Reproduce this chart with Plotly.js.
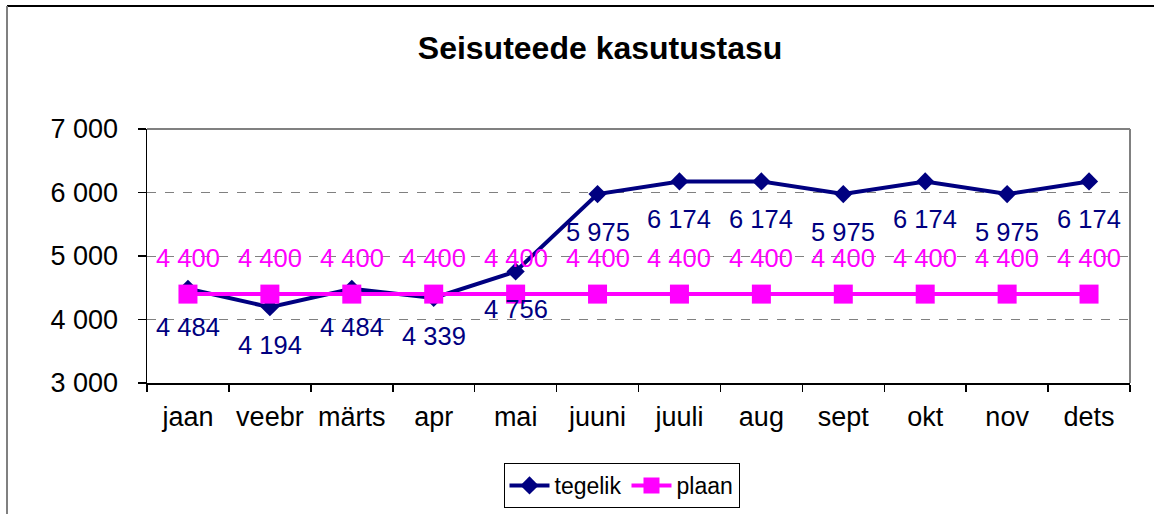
<!DOCTYPE html>
<html>
<head>
<meta charset="utf-8">
<script src="https://cdn.plot.ly/plotly-3.0.1.min.js"></script>
<style>
html,body{margin:0;padding:0;background:#fff;}
#chart{width:1154px;height:514px;}
</style>
</head>
<body>
<div id="chart"></div>
<script>
const months = ["jaan","veebr","märts","apr","mai","juuni","juuli","aug","sept","okt","nov","dets"];
const tegelik = [4484,4194,4484,4339,4756,5975,6174,6174,5975,6174,5975,6174];
const plaan = [4400,4400,4400,4400,4400,4400,4400,4400,4400,4400,4400,4400];
const yTicks = [3000,4000,5000,6000,7000];

const FONT = "Liberation Sans, Arial, sans-serif";
const NAVY = "#000080";
const MAG = "#FF00FF";
function fmt(v){ return String(v).replace(/\B(?=(\d{3})+(?!\d))/g, " "); }

const traces = [
  {x: months, y: tegelik, name: "tegelik", type: "scatter", mode: "lines+markers",
   line: {color: NAVY, width: 4}, marker: {symbol: "diamond", size: 14, color: NAVY}, cliponaxis: false},
  {x: months, y: plaan, name: "plaan", type: "scatter", mode: "lines+markers",
   line: {color: MAG, width: 4}, marker: {symbol: "square", size: 19, color: MAG}, cliponaxis: false}
];

const annotations = [];
months.forEach((m, i) => {
  annotations.push({x: m, y: plaan[i], xref: "x", yref: "y", text: fmt(plaan[i]), showarrow: false,
    yshift: 36, font: {family: FONT, size: 25.5, color: MAG}});
  annotations.push({x: m, y: tegelik[i], xref: "x", yref: "y", text: fmt(tegelik[i]), showarrow: false,
    yshift: -38, font: {family: FONT, size: 25.5, color: NAVY}});
});

const L = 147, R = 1130, T = 129, B = 383, W = 1154, H = 514;
const px = x => (x - L) / (R - L);
const py = y => (B - y) / (B - T);

const layout = {
  width: W, height: H,
  margin: {l: L, r: W - R, t: T, b: H - B, pad: 0, autoexpand: false},
  paper_bgcolor: "#fff", plot_bgcolor: "#fff",
  font: {family: FONT, size: 26, color: "#000"},
  title: {text: "<b>Seisuteede kasutustasu</b>", font: {family: FONT, size: 32, color: "#000"},
          x: 0.52, xref: "container", y: 1 - 48 / H, yref: "container", xanchor: "center", yanchor: "middle"},
  showlegend: true,
  legend: {orientation: "h", x: px(621.5), xanchor: "center", y: py(463), yanchor: "top",
           bordercolor: "#000", borderwidth: 1, bgcolor: "#fff",
           font: {family: FONT, size: 23, color: "#000"}, itemwidth: 40, tracegroupgap: 0},
  xaxis: {type: "category", range: [-0.5, 11.5], showgrid: false, zeroline: false,
          showline: true, linecolor: "#000", linewidth: 1.5,
          ticks: "outside", tickson: "boundaries", ticklen: 7, tickcolor: "#000", tickwidth: 1.5,
          ticklabelstandoff: 9, tickfont: {family: FONT, size: 27, color: "#000"}},
  yaxis: {range: [3000, 7000], tickvals: yTicks, ticktext: yTicks.map(fmt),
          showgrid: true, gridcolor: "#808080", griddash: "dash", gridwidth: 1, zeroline: false,
          showline: true, linecolor: "#000", linewidth: 1.5,
          ticks: "outside", ticklen: 8, tickcolor: "#000", tickwidth: 1.5,
          ticklabelstandoff: 14, tickfont: {family: FONT, size: 27, color: "#000"}},
  annotations: annotations,
  shapes: [
    {type: "line", xref: "paper", yref: "paper", x0: 0, x1: 1, y0: 1, y1: 1, line: {color: "#808080", width: 2}, layer: "below"},
    {type: "line", xref: "paper", yref: "paper", x0: 1, x1: 1, y0: 0, y1: 1, line: {color: "#808080", width: 2}, layer: "below"},
    {type: "line", xref: "paper", yref: "paper", x0: px(7), x1: px(1160), y0: py(6), y1: py(6), line: {color: "#000", width: 2}},
    {type: "line", xref: "paper", yref: "paper", x0: px(7), x1: px(7), y0: py(6), y1: py(520), line: {color: "#808080", width: 2}}
  ]
};

Plotly.newPlot("chart", traces, layout, {displayModeBar: false, staticPlot: true});
</script>
</body>
</html>
